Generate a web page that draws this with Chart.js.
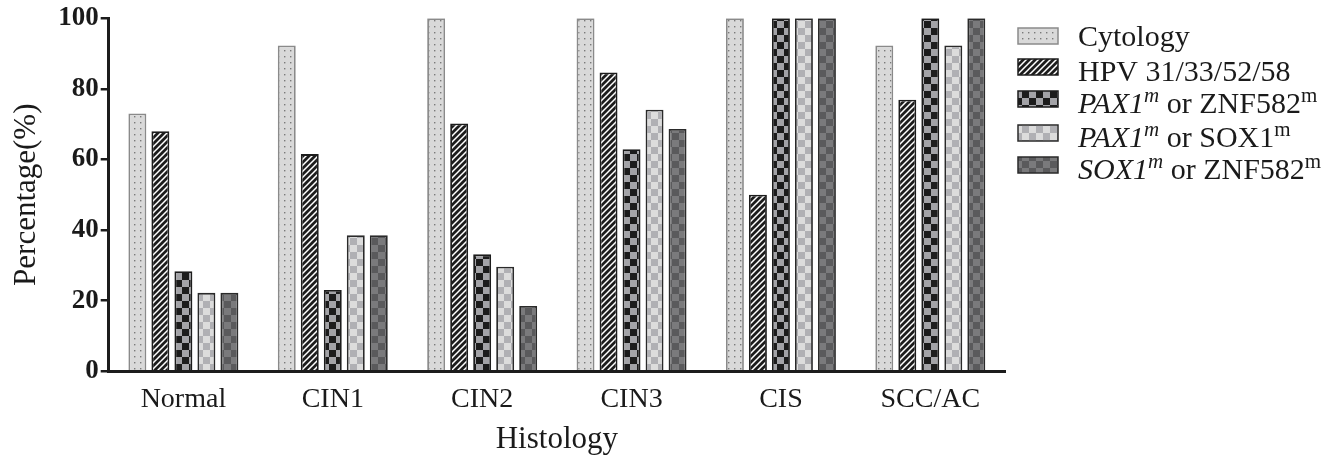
<!DOCTYPE html>
<html>
<head>
<meta charset="utf-8">
<script src="https://cdn.jsdelivr.net/npm/chart.js@4/dist/chart.umd.min.js"></script>
<style>
  html, body { margin: 0; padding: 0; background: #fff; }
  #wrap { width: 1323px; height: 462px; }
</style>
</head>
<body>
<div id="wrap"><canvas id="chart" width="1323" height="462"></canvas></div>
<script>
// data
const categories = ['Normal', 'CIN1', 'CIN2', 'CIN3', 'CIS', 'SCC/AC'];
const cytology = [73, 92.3, 100, 100, 100, 92.3];
const hpv = [68, 61.5, 70.2, 84.6, 50, 76.9];
const paxZnf = [28.3, 23, 33.1, 62.9, 100, 100];
const paxSox = [22.2, 38.5, 29.6, 74.1, 100, 92.3];
const soxZnf = [22.2, 38.5, 18.5, 68.6, 100, 100];
const yTicks = [0, 20, 40, 60, 80, 100];

// legend text pieces: [text, italic, superscript]
const legendLabels = [
  [['Cytology', false, false]],
  [['HPV 31/33/52/58', false, false]],
  [['PAX1', true, false], ['m', true, true], [' or ZNF582', false, false], ['m', false, true]],
  [['PAX1', true, false], ['m', true, true], [' or SOX1', false, false], ['m', false, true]],
  [['SOX1', true, false], ['m', true, true], [' or ZNF582', false, false], ['m', false, true]]
];

const SERIF = '"Liberation Serif", "DejaVu Serif", serif';

// --- fill patterns ---
function tile(size, draw) {
  const c = document.createElement('canvas');
  c.width = size; c.height = size;
  draw(c.getContext('2d'), size);
  return document.getElementById('chart').getContext('2d').createPattern(c, 'repeat');
}
function dots() {
  return tile(6, (g, s) => {
    g.fillStyle = '#d9d9d9'; g.fillRect(0, 0, s, s);
    g.fillStyle = '#7a7a7a'; g.fillRect(2, 2, 1.4, 1.4);
  });
}
function stripes() {
  return tile(6, (g, s) => {
    g.fillStyle = '#1c1c1c'; g.fillRect(0, 0, s, s);
    g.strokeStyle = '#ffffff'; g.lineWidth = 1.5;
    g.beginPath();
    g.moveTo(-1, s + 1); g.lineTo(s + 1, -1);
    g.moveTo(-1, 1); g.lineTo(1, -1);
    g.moveTo(s - 1, s + 1); g.lineTo(s + 1, s - 1);
    g.stroke();
  });
}
function checker(a, b) {
  return tile(14, (g, s) => {
    g.fillStyle = a; g.fillRect(0, 0, s, s);
    g.fillStyle = b; g.fillRect(0, 0, 7, 7); g.fillRect(7, 7, 7, 7);
  });
}

const fills = [dots(), stripes(), checker('#1c1c1c', '#a3a3a7'), checker('#dcdcdc', '#b0b0b4'), checker('#5a5a5c', '#7a7a7c')];
const borders = ['#8a8a8a', '#1c1c1c', '#1c1c1c', '#2a2a2a', '#2a2a2a'];
const seriesData = [cytology, hpv, paxZnf, paxSox, soxZnf];

const datasets = seriesData.map((d, i) => ({
  label: legendLabels[i].map(p => p[0]).join(''),
  data: d,
  backgroundColor: fills[i],
  borderColor: borders[i],
  borderWidth: 1.8,
  categoryPercentage: 0.77,
  barPercentage: 0.78
}));

// legend drawn on canvas so italics and superscripts can be mixed
const boxTops = [28, 59, 91, 125, 157];
const textBase = [46, 81, 113, 147, 179];
const richLegend = {
  id: 'richLegend',
  afterDraw(chart) {
    const ctx = chart.ctx;
    ctx.save();
    const x0 = 1018;
    legendLabels.forEach((parts, i) => {
      const top = boxTops[i];
      ctx.fillStyle = fills[i];
      ctx.fillRect(x0, top, 40, 16);
      ctx.strokeStyle = borders[i];
      ctx.lineWidth = 1.5;
      ctx.strokeRect(x0, top, 40, 16);
      let x = x0 + 60;
      const base = textBase[i];
      ctx.fillStyle = '#1a1a1a';
      ctx.textBaseline = 'alphabetic';
      parts.forEach(([t, it, sup]) => {
        ctx.font = (it ? 'italic ' : '') + (sup ? '21px ' : '30px ') + SERIF;
        ctx.fillText(t, x, sup ? base - 11 : base);
        x += ctx.measureText(t).width;
      });
    });
    ctx.restore();
  }
};

new Chart(document.getElementById('chart'), {
  type: 'bar',
  data: { labels: categories, datasets },
  options: {
    responsive: false,
    animation: false,
    layout: { padding: { top: 18, right: 318, left: 4, bottom: 0 } },
    plugins: { legend: { display: false }, tooltip: { enabled: false } },
    scales: {
      x: {
        grid: { display: false },
        border: { display: true, color: '#1c1c1c', width: 3 },
        ticks: { color: '#1a1a1a', font: { family: SERIF, size: 28 }, padding: 4 },
        title: { display: true, text: 'Histology', color: '#1a1a1a', font: { family: SERIF, size: 31 }, padding: { top: 0 } }
      },
      y: {
        min: 0, max: 100,
        afterBuildTicks(axis) { axis.ticks = yTicks.map(v => ({ value: v })); },
        grid: { drawOnChartArea: false, drawTicks: true, tickLength: 8, color: '#1c1c1c', lineWidth: 2.5 },
        border: { display: true, color: '#1c1c1c', width: 3 },
        ticks: { color: '#1a1a1a', font: { family: SERIF, size: 27, weight: 'bold' }, padding: 2 },
        title: { display: true, text: 'Percentage(%)', color: '#1a1a1a', font: { family: SERIF, size: 31 }, padding: { bottom: 11 } }
      }
    }
  },
  plugins: [richLegend]
});
</script>
</body>
</html>
